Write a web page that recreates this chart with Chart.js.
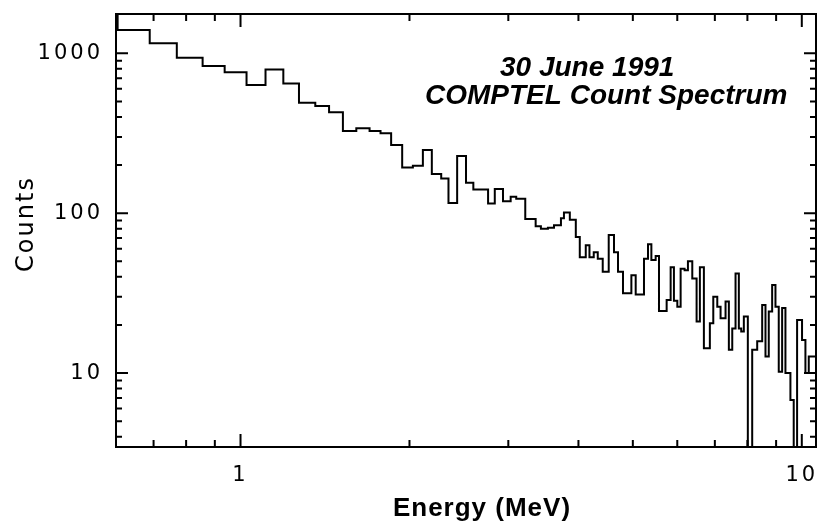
<!DOCTYPE html>
<html>
<head>
<meta charset="utf-8">
<script src="https://cdn.jsdelivr.net/npm/chart.js@4.4.1/dist/chart.umd.min.js"></script>
<style>
  html, body { margin: 0; padding: 0; background: #fff; }
  #wrap { width: 820px; height: 523px; }
</style>
</head>
<body>
<div id="wrap"><canvas id="c" width="820" height="523"></canvas></div>
<script>
// ---- Data ----
// Histogram bin edges, energy in MeV (N+1 values)
const binEdges = [0.604, 0.689, 0.770, 0.856, 0.937, 1.025, 1.108, 1.192, 1.271, 1.359,
  1.438, 1.522, 1.608, 1.698, 1.776, 1.855, 1.941, 2.028, 2.113, 2.192,
  2.278, 2.347, 2.432, 2.522, 2.599, 2.761, 2.838, 2.935, 3.029, 3.099,
  3.216, 3.356, 3.429, 3.529, 3.618, 3.723, 3.769, 3.861, 3.957, 4.022,
  4.122, 4.185, 4.259, 4.330, 4.419, 4.529, 4.628, 4.705, 4.802, 4.970,
  5.059, 5.234, 5.321, 5.395, 5.491, 5.566, 5.744, 5.839, 5.918, 6.001,
  6.083, 6.183, 6.268, 6.381, 6.495, 6.583, 6.692, 6.858, 6.955, 7.070,
  7.166, 7.314, 7.414, 7.518, 7.620, 7.724, 7.800, 7.884, 8.014, 8.159,
  8.328, 8.500, 8.616, 8.733, 8.855, 8.976, 9.098, 9.225, 9.351, 9.544,
  9.674, 9.809, 10.01, 10.15, 10.29, 10.43, 10.57];
// Counts per bin (N values); 1 = bin falls below the plotted range
const counts = [1748, 1398, 1155, 939, 833, 761, 634, 792, 648, 491,
  468, 428, 327, 340, 327, 316, 267, 193, 198, 249,
  176, 165, 116, 228, 155, 141, 115, 142, 119, 127,
  123, 92, 83, 80, 81, 84, 93, 101, 91, 71,
  53, 63, 53, 57, 52, 43, 73, 57, 43, 31.6,
  41, 31, 52, 64, 51, 54, 24.5, 28.7, 46, 28.4,
  26, 45, 44, 50, 39, 21, 46, 14.3, 20.5, 30,
  26, 22, 28, 14, 19, 42, 19, 18.2, 22.6, 1,
  14, 15.8, 26.7, 12.7, 24.3, 35.6, 26, 10.2, 25.5, 10,
  6.8, 1, 21.5, 16.1, 10, 12.7];
const xRange = [0.604, 10.6];
const yRange = [3.45, 1763];
const titleLines = ['30 June 1991', 'COMPTEL Count Spectrum'];
const xTitle = 'Energy (MeV)';
const yTitle = 'Counts';

// Build step points from the arrays
const stepPoints = counts.map((c, i) => ({ x: binEdges[i], y: c }));
stepPoints.push({ x: binEdges[binEdges.length - 1], y: counts[counts.length - 1] });

const isPow10 = v => Math.abs(Math.log10(v) - Math.round(Math.log10(v))) < 1e-9;
const isNice = v => {
  const s = v / Math.pow(10, Math.floor(Math.log10(v) + 1e-9));
  return Math.abs(s - Math.round(s)) < 1e-6;
};
const noPad = s => { s.paddingTop = 0; s.paddingBottom = 0; s.paddingLeft = 0; s.paddingRight = 0; };

const framePlugin = {
  id: 'frame',
  beforeDraw(chart) {
    const ctx = chart.ctx;
    ctx.save();
    ctx.fillStyle = '#fff';
    ctx.fillRect(0, 0, chart.width, chart.height);
    ctx.restore();
  },
  afterDatasetsDraw(chart) {
    const ctx = chart.ctx;
    const { left, right, top, bottom } = chart.chartArea;
    const xs = chart.scales.x, ys = chart.scales.y;
    ctx.save();
    ctx.strokeStyle = '#000';
    ctx.lineWidth = 2;
    ctx.beginPath();
    ys.ticks.forEach(t => {
      const v = t.value;
      if (v < ys.min || v > ys.max || !isNice(v)) return;
      const p = ys.getPixelForValue(v);
      const len = isPow10(v) ? 12 : 6;
      ctx.moveTo(left, p); ctx.lineTo(left + len, p);
      ctx.moveTo(right, p); ctx.lineTo(right - len, p);
    });
    xs.ticks.forEach(t => {
      const v = t.value;
      if (v < xs.min || v > xs.max || !isNice(v)) return;
      const p = xs.getPixelForValue(v);
      const len = isPow10(v) ? 13 : 7;
      ctx.moveTo(p, bottom); ctx.lineTo(p, bottom - len);
      ctx.moveTo(p, top); ctx.lineTo(p, top + len);
    });
    ctx.stroke();
    ctx.strokeRect(left, top, right - left, bottom - top);
    ctx.restore();
    ctx.letterSpacing = '3px';
  },
  afterDraw(chart) {
    const ctx = chart.ctx;
    const { left, right, top, bottom } = chart.chartArea;
    ctx.save();
    ctx.fillStyle = '#000';
    // axis titles
    ctx.letterSpacing = '1px';
    ctx.font = 'bold 26px "Liberation Sans", Arial, sans-serif';
    ctx.textAlign = 'center';
    ctx.textBaseline = 'alphabetic';
    ctx.fillText(xTitle, 482, 516);
    ctx.letterSpacing = '2px';
    ctx.font = '24px "DejaVu Sans", sans-serif';
    ctx.translate(33, 224);
    ctx.rotate(-Math.PI / 2);
    ctx.fillText(yTitle, 0, 0);
    ctx.restore();
    // in-plot title
    ctx.save();
    ctx.letterSpacing = '0px';
    ctx.fillStyle = '#000';
    ctx.font = 'italic bold 28px "Liberation Sans", Arial, sans-serif';
    ctx.textAlign = 'left';
    ctx.textBaseline = 'alphabetic';
    ctx.fillText(titleLines[0], 500, 76);
    ctx.fillText(titleLines[1], 425, 104);
    ctx.restore();
    ctx.letterSpacing = '0px';
  }
};

new Chart(document.getElementById('c'), {
  type: 'line',
  data: {
    datasets: [{
      data: stepPoints,
      stepped: 'after',
      borderColor: '#000',
      borderWidth: 2,
      pointRadius: 0,
      fill: false,
      borderJoinStyle: 'miter'
    }]
  },
  options: {
    responsive: false,
    animation: false,
    events: [],
    layout: { padding: { top: 14, right: 4, left: 0, bottom: 0 } },
    plugins: { legend: { display: false }, tooltip: { enabled: false }, title: { display: false } },
    scales: {
      x: {
        type: 'logarithmic',
        min: xRange[0], max: xRange[1],
        afterFit: s => { s.height = 76; noPad(s); },
        grid: { display: false, drawTicks: false },
        border: { display: false },
        ticks: {
          z: 1,
          autoSkip: false, maxRotation: 0, padding: 16,
          color: '#000',
          font: { family: '"DejaVu Sans", sans-serif', size: 21 },
          callback: v => isPow10(v) ? String(Math.round(v)) : ''
        },
        title: { display: false, text: xTitle }
      },
      y: {
        type: 'logarithmic',
        min: yRange[0], max: yRange[1],
        afterFit: s => { s.width = 116; noPad(s); },
        grid: { display: false, drawTicks: false },
        border: { display: false },
        ticks: {
          z: 1,
          autoSkip: false, padding: 13,
          color: '#000',
          font: { family: '"DejaVu Sans", sans-serif', size: 21 },
          callback: v => isPow10(v) ? String(Math.round(v)) : ''
        },
        title: { display: false, text: yTitle }
      }
    }
  },
  plugins: [framePlugin]
});
</script>
</body>
</html>
